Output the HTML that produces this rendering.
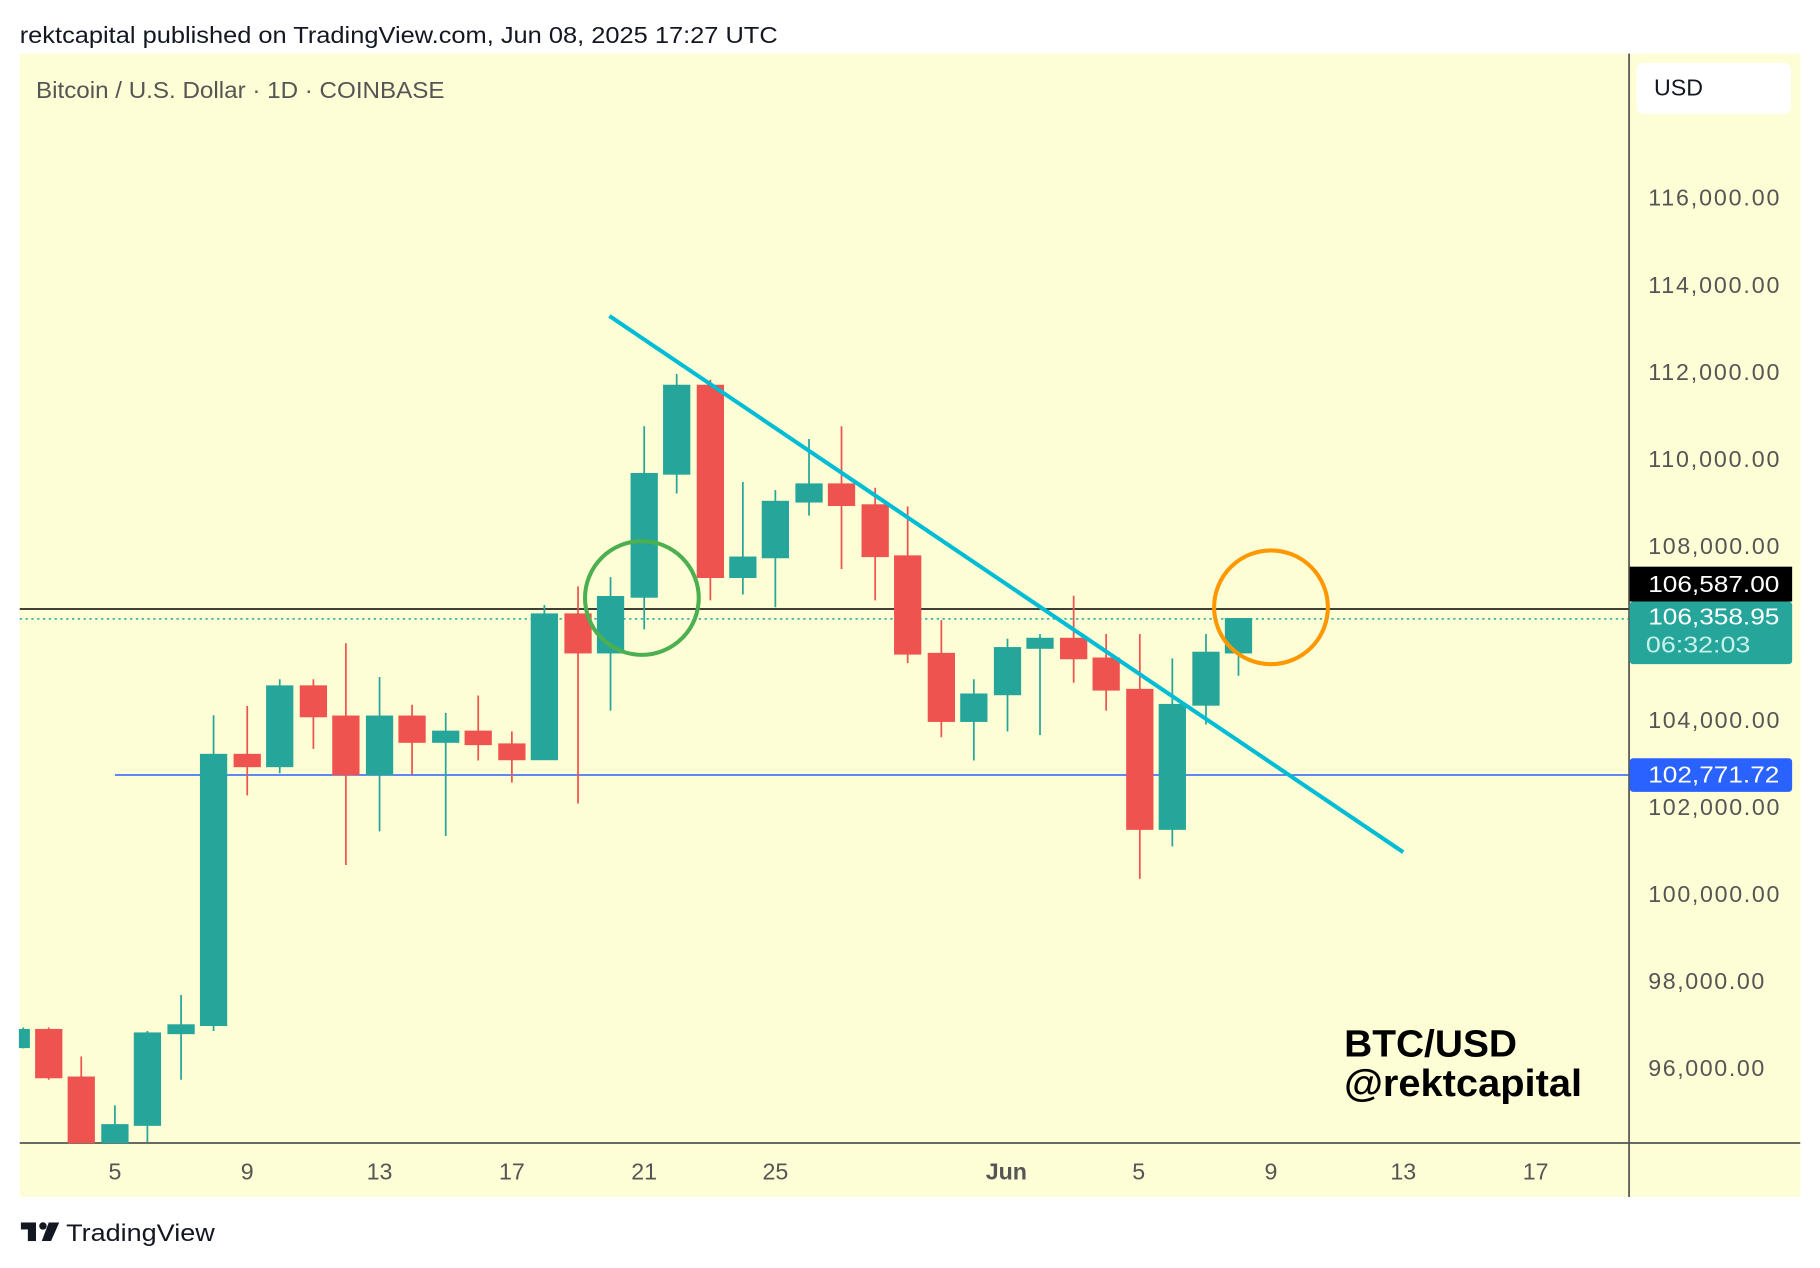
<!DOCTYPE html>
<html><head><meta charset="utf-8"><style>
html,body{margin:0;padding:0;background:#fff;}
svg{display:block;}
text{font-family:"Liberation Sans",sans-serif;}
</style></head><body>
<svg width="1820" height="1268" viewBox="0 0 1568 1092" xmlns="http://www.w3.org/2000/svg">
<rect width="1568" height="1092" fill="#fff"/>
<text x="17" y="37" font-size="20" fill="#131722" textLength="653" lengthAdjust="spacingAndGlyphs">rektcapital published on TradingView.com, Jun 08, 2025 17:27 UTC</text>
<rect x="17" y="46" width="1534" height="985" fill="#fefed6"/>
<text x="31" y="84" font-size="20" fill="#555" textLength="352" lengthAdjust="spacingAndGlyphs">Bitcoin / U.S. Dollar · 1D · COINBASE</text>
<rect x="1410" y="54" width="133" height="44" rx="6" fill="#fff"/>
<text x="1425" y="82" font-size="20" fill="#131722">USD</text>
<line x1="1403.5" y1="46" x2="1403.5" y2="1031" stroke="#555" stroke-width="1.5"/>
<line x1="17" y1="984.5" x2="1551" y2="984.5" stroke="#555" stroke-width="1.5"/>
<g font-size="20" fill="#555" lengthAdjust="spacingAndGlyphs">
<text x="1420" y="177" textLength="113">116,000.00</text>
<text x="1420" y="252" textLength="113">114,000.00</text>
<text x="1420" y="327" textLength="113">112,000.00</text>
<text x="1420" y="402" textLength="113">110,000.00</text>
<text x="1420" y="477" textLength="113">108,000.00</text>
<text x="1420" y="627" textLength="113">104,000.00</text>
<text x="1420" y="702" textLength="113">102,000.00</text>
<text x="1420" y="777" textLength="113">100,000.00</text>
<text x="1420" y="852" textLength="100">98,000.00</text>
<text x="1420" y="927" textLength="100">96,000.00</text>
</g>
<g font-size="20" fill="#555" text-anchor="middle">
<text x="99" y="1016">5</text><text x="213" y="1016">9</text><text x="327" y="1016">13</text>
<text x="441" y="1016">17</text><text x="555" y="1016">21</text><text x="668" y="1016">25</text>
<text x="867" y="1016" font-weight="bold">Jun</text><text x="981" y="1016">5</text>
<text x="1095" y="1016">9</text><text x="1209" y="1016">13</text><text x="1323" y="1016">17</text>
</g>
<line x1="17" y1="524.5" x2="1403" y2="524.5" stroke="#000" stroke-width="1.3"/>
<line x1="17" y1="533" x2="1403" y2="533" stroke="#26a69a" stroke-width="1.3" stroke-dasharray="2,3"/>
<line x1="99" y1="667.5" x2="1403" y2="667.5" stroke="#2962ff" stroke-width="1.3"/>
<g stroke-width="1.5">
<g stroke="#26a69a" fill="#26a69a">
<line x1="20" y1="885" x2="20" y2="903"/><rect x="17" y="887" width="8" height="15"/>
<line x1="99" y1="952" x2="99" y2="984"/><rect x="88" y="969" width="22" height="15"/>
<line x1="127" y1="888" x2="127" y2="984"/><rect x="116" y="890" width="22" height="79"/>
<line x1="156" y1="857" x2="156" y2="930"/><rect x="145" y="883" width="22" height="7"/>
<line x1="184" y1="616" x2="184" y2="888"/><rect x="173" y="650" width="22" height="233"/>
<line x1="241" y1="585" x2="241" y2="666"/><rect x="230" y="591" width="22" height="69"/>
<line x1="327" y1="583" x2="327" y2="716"/><rect x="316" y="617" width="22" height="50"/>
<line x1="384" y1="614" x2="384" y2="720"/><rect x="373" y="630" width="22" height="9"/>
<line x1="469" y1="521" x2="469" y2="654"/><rect x="458" y="529" width="22" height="125"/>
<line x1="526" y1="497" x2="526" y2="612"/><rect x="515" y="514" width="22" height="48"/>
<line x1="555" y1="367" x2="555" y2="542"/><rect x="544" y="408" width="22" height="106"/>
<line x1="583" y1="322" x2="583" y2="425"/><rect x="572" y="332" width="22" height="76"/>
<line x1="640" y1="415" x2="640" y2="512"/><rect x="629" y="480" width="22" height="17"/>
<line x1="668" y1="422" x2="668" y2="523"/><rect x="657" y="432" width="22" height="48"/>
<line x1="697" y1="378" x2="697" y2="444"/><rect x="686" y="417" width="22" height="15"/>
<line x1="839" y1="585" x2="839" y2="655"/><rect x="828" y="598" width="22" height="23"/>
<line x1="868" y1="550" x2="868" y2="630"/><rect x="857" y="558" width="22" height="40"/>
<line x1="896" y1="546" x2="896" y2="633"/><rect x="885" y="550" width="22" height="8"/>
<line x1="1010" y1="567" x2="1010" y2="729"/><rect x="999" y="607" width="22" height="107"/>
<line x1="1039" y1="546" x2="1039" y2="624"/><rect x="1028" y="562" width="22" height="45"/>
<line x1="1067" y1="533" x2="1067" y2="582"/><rect x="1056" y="533" width="22" height="29"/>
</g>
<g stroke="#ef5350" fill="#ef5350">
<line x1="42" y1="885" x2="42" y2="930"/><rect x="31" y="887" width="22" height="41"/>
<line x1="70" y1="910" x2="70" y2="984"/><rect x="59" y="928" width="22" height="56"/>
<line x1="213" y1="608" x2="213" y2="685"/><rect x="202" y="650" width="22" height="10"/>
<line x1="270" y1="585" x2="270" y2="645"/><rect x="259" y="591" width="22" height="26"/>
<line x1="298" y1="554" x2="298" y2="745"/><rect x="287" y="617" width="22" height="50"/>
<line x1="355" y1="607" x2="355" y2="667"/><rect x="344" y="617" width="22" height="22"/>
<line x1="412" y1="599" x2="412" y2="655"/><rect x="401" y="630" width="22" height="11"/>
<line x1="441" y1="630" x2="441" y2="674"/><rect x="430" y="641" width="22" height="13"/>
<line x1="498" y1="505" x2="498" y2="692"/><rect x="487" y="529" width="22" height="33"/>
<line x1="612" y1="327" x2="612" y2="517"/><rect x="601" y="332" width="22" height="165"/>
<line x1="725" y1="367" x2="725" y2="490"/><rect x="714" y="417" width="22" height="18"/>
<line x1="754" y1="420" x2="754" y2="517"/><rect x="743" y="435" width="22" height="44"/>
<line x1="782" y1="436" x2="782" y2="571"/><rect x="771" y="479" width="22" height="84"/>
<line x1="811" y1="534" x2="811" y2="635"/><rect x="800" y="563" width="22" height="58"/>
<line x1="925" y1="513" x2="925" y2="588"/><rect x="914" y="550" width="22" height="17"/>
<line x1="953" y1="546" x2="953" y2="612"/><rect x="942" y="567" width="22" height="27"/>
<line x1="982" y1="546" x2="982" y2="757"/><rect x="971" y="594" width="22" height="120"/>
</g>
</g>
<line x1="525" y1="272" x2="1209" y2="734" stroke="#00bcd4" stroke-width="3.5"/>
<circle cx="553" cy="515" r="49" fill="none" stroke="#4caf50" stroke-width="3.5"/>
<circle cx="1095" cy="523" r="49" fill="none" stroke="#ff9800" stroke-width="3.5"/>
<rect x="1404" y="488" width="140" height="30" fill="#000"/>
<text x="1420" y="510" font-size="20" fill="#fff" textLength="113" lengthAdjust="spacingAndGlyphs">106,587.00</text>
<rect x="1404" y="518" width="140" height="54" rx="3" fill="#26a69a"/>
<text x="1420" y="538" font-size="20" fill="#fff" textLength="113" lengthAdjust="spacingAndGlyphs">106,358.95</text>
<text x="1418" y="562" font-size="20" fill="#c8f0ea" textLength="90" lengthAdjust="spacingAndGlyphs">06:32:03</text>
<rect x="1404" y="653" width="140" height="29" rx="3" fill="#2962ff"/>
<text x="1420" y="674" font-size="20" fill="#fff" textLength="113" lengthAdjust="spacingAndGlyphs">102,771.72</text>
<text x="1158" y="910" font-size="33" font-weight="bold" fill="#000" textLength="149" lengthAdjust="spacingAndGlyphs">BTC/USD</text>
<text x="1158" y="944" font-size="33" font-weight="bold" fill="#000" textLength="205" lengthAdjust="spacingAndGlyphs">@rektcapital</text>
<g fill="#131722">
<rect x="18" y="1053" width="13" height="6"/><rect x="24" y="1053" width="7" height="16"/>
<circle cx="37" cy="1056" r="3.2"/>
<polygon points="42,1053 51,1053 44,1069 36,1069"/>
</g>
<text x="57" y="1069" font-size="21" fill="#131722" textLength="128" lengthAdjust="spacingAndGlyphs">TradingView</text>
</svg>
</body></html>
